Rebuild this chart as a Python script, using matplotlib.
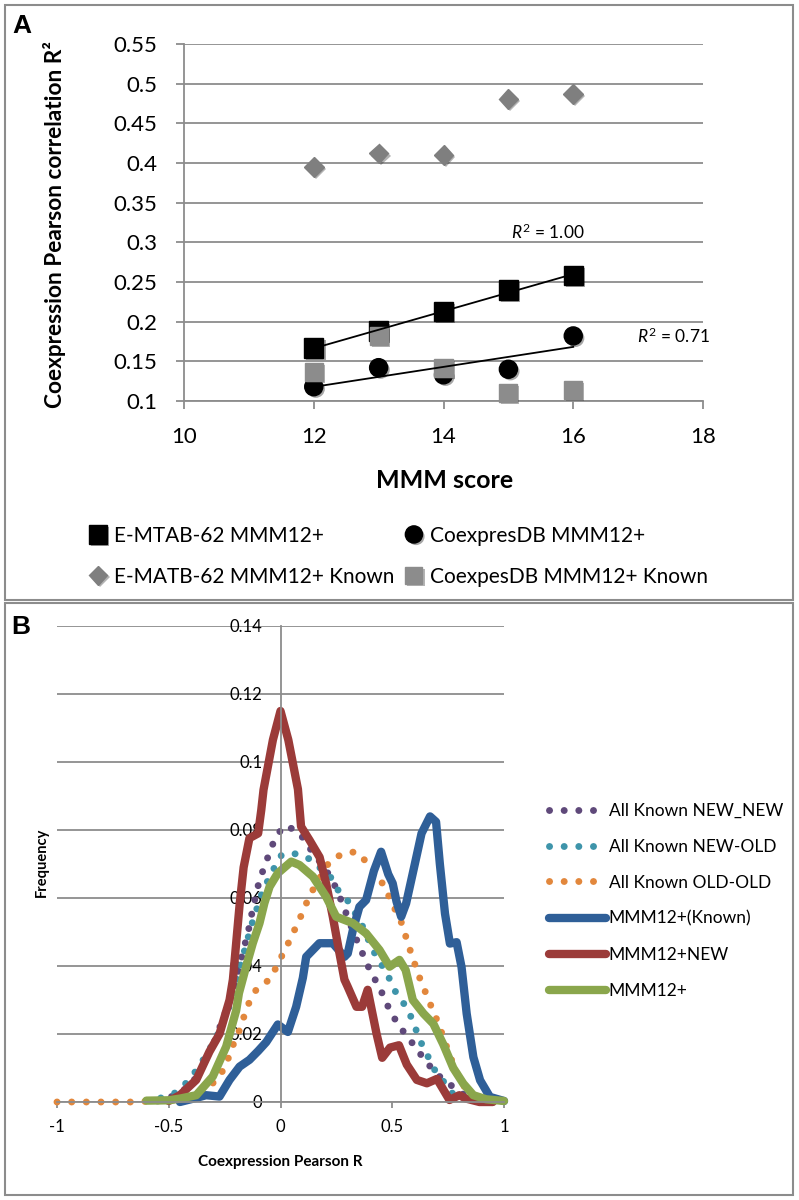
import numpy as np
import matplotlib
matplotlib.use('Agg')
from matplotlib import pyplot as plt
from matplotlib.patches import Rectangle
import matplotlib.patheffects as pe

plt.rcParams['font.family'] = ['Lato', 'DejaVu Sans']
plt.rcParams['mathtext.fontset'] = 'custom'
plt.rcParams['mathtext.rm'] = 'Lato'
plt.rcParams['mathtext.it'] = 'Lato:italic'

# ---- panel A data ----
mmm = [12, 13, 14, 15, 16]
emtab = [0.167, 0.188, 0.213, 0.240, 0.258]
coexpdb = [0.118, 0.142, 0.133, 0.140, 0.182]
emtab_known = [0.395, 0.412, 0.410, 0.481, 0.487]
coexpdb_known = [0.137, 0.182, 0.142, 0.110, 0.114]
a_yticks = [0.1, 0.15, 0.2, 0.25, 0.3, 0.35, 0.4, 0.45, 0.5, 0.55]
a_ylabels = ['0.1', '0.15', '0.2', '0.25', '0.3', '0.35', '0.4', '0.45', '0.5', '0.55']
a_xticks = [10, 12, 14, 16, 18]

# ---- panel B data ----
nn_x = [-0.55, -0.5, -0.45, -0.4, -0.346, -0.3, -0.266, -0.243, -0.2, -0.169, -0.151, -0.136,
        -0.124, -0.094, -0.072, -0.049, -0.024, 0.015, 0.07, 0.116, 0.145, 0.185, 0.227, 0.256,
        0.279, 0.32, 0.353, 0.38, 0.406, 0.442, 0.467, 0.497, 0.534, 0.572, 0.609, 0.654, 0.691,
        0.743, 0.803, 0.85, 0.9]
nn_y = [0.0003, 0.0012, 0.0028, 0.005, 0.0108, 0.017, 0.023, 0.027, 0.035, 0.044, 0.0484, 0.0526,
        0.057, 0.0653, 0.0692, 0.0734, 0.0776, 0.0812, 0.080, 0.0765, 0.0731, 0.070, 0.0658, 0.0619,
        0.058, 0.051, 0.0457, 0.0418, 0.0378, 0.034, 0.030, 0.026, 0.022, 0.019, 0.0155, 0.0118,
        0.0086, 0.0059, 0.0029, 0.001, 0.0003]

no_x = [-0.6, -0.534, -0.474, -0.43, -0.38, -0.33, -0.28, -0.23, -0.18, -0.13, -0.08, -0.05,
        -0.027, 0.006, 0.067, 0.115, 0.16, 0.219, 0.249, 0.294, 0.361, 0.413, 0.48, 0.512, 0.572,
        0.606, 0.631, 0.691, 0.73, 0.77, 0.85]
no_y = [0.0004, 0.0012, 0.0026, 0.005, 0.009, 0.014, 0.020, 0.028, 0.040, 0.052, 0.062, 0.066,
        0.069, 0.0728, 0.073, 0.0722, 0.0697, 0.0668, 0.0629, 0.0599, 0.0526, 0.0447, 0.0373,
        0.0327, 0.027, 0.0213, 0.0172, 0.0093, 0.006, 0.0025, 0.0005]

oo_x = [-1, -0.935, -0.87, -0.8, -0.73, -0.67, -0.6, -0.5, -0.45, -0.4, -0.348, -0.303, -0.258,
        -0.234, -0.209, -0.183, -0.161, -0.139, -0.109, -0.052, -0.019, 0.01, 0.04, 0.07, 0.097,
        0.122, 0.152, 0.219, 0.279, 0.339, 0.391, 0.465, 0.491, 0.548, 0.565, 0.609, 0.631, 0.657,
        0.681, 0.71, 0.728, 0.766, 0.803, 0.848, 0.9]
oo_y = [0, 0, 0, 0, 0, 0, 0.0002, 0.0005, 0.0008, 0.0014, 0.0026, 0.0055, 0.0092, 0.0128, 0.0173,
        0.0212, 0.0256, 0.0295, 0.033, 0.0359, 0.0396, 0.0435, 0.0474, 0.0516, 0.0555, 0.0594,
        0.0633, 0.0707, 0.0731, 0.0736, 0.0702, 0.0635, 0.0596, 0.0518, 0.0476, 0.039, 0.035,
        0.031, 0.027, 0.0226, 0.019, 0.0123, 0.0064, 0.002, 0.0003]

known_x = [-0.45, -0.377, -0.333, -0.273, -0.228, -0.183, -0.139, -0.1, -0.064, -0.012, 0.033,
           0.07, 0.1, 0.115, 0.174, 0.234, 0.286, 0.301, 0.324, 0.353, 0.383, 0.418, 0.45, 0.482,
           0.502, 0.519, 0.54, 0.562, 0.601, 0.631, 0.669, 0.696, 0.713, 0.736, 0.758, 0.788, 0.81,
           0.833, 0.863, 0.893, 0.937, 1.0]
known_y = [0, 0.0012, 0.002, 0.0016, 0.0065, 0.0104, 0.0124, 0.015, 0.0176, 0.0228, 0.0206,
           0.028, 0.0365, 0.0427, 0.0467, 0.0467, 0.0427, 0.0437, 0.0506, 0.0574, 0.0594, 0.068,
           0.0736, 0.067, 0.0643, 0.059, 0.0545, 0.0584, 0.070, 0.079, 0.084, 0.0824, 0.070,
           0.0554, 0.0466, 0.047, 0.0397, 0.026, 0.0132, 0.0064, 0.0015, 0.0003]

new_x = [-0.5, -0.45, -0.377, -0.318, -0.273, -0.228, -0.213, -0.198, -0.183, -0.165, -0.139,
         -0.1, -0.086, -0.076, -0.034, 0, 0.035, 0.078, 0.092, 0.13, 0.175, 0.204, 0.234, 0.264,
         0.286, 0.3, 0.34, 0.365, 0.39, 0.43, 0.455, 0.49, 0.53, 0.565, 0.61, 0.655, 0.7, 0.756,
         0.8, 0.83, 0.89, 0.95]
new_y = [0.0003, 0.002, 0.0065, 0.0148, 0.020, 0.030, 0.036, 0.047, 0.058, 0.069, 0.0776, 0.079,
         0.0859, 0.0918, 0.1065, 0.115, 0.1065, 0.092, 0.081, 0.077, 0.072, 0.0643, 0.0545,
         0.0437, 0.036, 0.034, 0.028, 0.028, 0.033, 0.020, 0.013, 0.016, 0.0167, 0.011, 0.0065,
         0.0055, 0.0068, 0.0006, 0.002, 0.001, 0, 0]

all_x = [-0.6, -0.5, -0.45, -0.377, -0.303, -0.243, -0.198, -0.186, -0.154, -0.124, -0.094,
         -0.072, -0.049, -0.012, 0.048, 0.085, 0.145, 0.204, 0.249, 0.324, 0.383, 0.443, 0.488,
         0.532, 0.56, 0.592, 0.64, 0.684, 0.728, 0.773, 0.818, 0.863, 0.92, 1.0]
all_y = [0.0004, 0.0005, 0.001, 0.002, 0.0075, 0.0163, 0.027, 0.032, 0.0398, 0.0467, 0.0526,
         0.0585, 0.0633, 0.0673, 0.0707, 0.0697, 0.0663, 0.0604, 0.0545, 0.0526, 0.0496, 0.0447,
         0.0398, 0.0418, 0.0388, 0.030, 0.026, 0.023, 0.017, 0.010, 0.0054, 0.002, 0.0008, 0.0003]

b_yticks = [0, 0.02, 0.04, 0.06, 0.08, 0.1, 0.12, 0.14]
b_ylabels = ['0', '0.02', '0.04', '0.06', '0.08', '0.1', '0.12', '0.14']
b_xticks = [-1, -0.5, 0, 0.5, 1]
b_xlabels = ['-1', '-0.5', '0', '0.5', '1']

grid_c = '#8c8c8c'
purple = '#5f497a'
teal = '#3e94aa'
orange = '#e2873c'
blue = '#2f5f98'
red = '#9b3b39'
green = '#8aa64c'

fig = plt.figure(figsize=(7.99, 12), dpi=100)

# panel frames
fig.patches.append(Rectangle((5 / 799, 1 - 600 / 1200), 788 / 799, 595 / 1200, transform=fig.transFigure,
                             fill=False, edgecolor='#8c8c8c', lw=1.5))
fig.patches.append(Rectangle((5 / 799, 1 - 1195 / 1200), 788 / 799, 592 / 1200, transform=fig.transFigure,
                             fill=False, edgecolor='#8c8c8c', lw=1.5))
fig.text(12 / 799, 1 - 26 / 1200, 'A', fontsize=19, fontweight='bold', family='Liberation Sans', va='center')
fig.text(11 / 799, 1 - 627 / 1200, 'B', fontsize=19, fontweight='bold', family='Liberation Sans', va='center')

# ---------- panel A ----------
ax = fig.add_axes([184 / 799, 799 / 1200, 519 / 799, 357 / 1200])
shadow = [pe.SimplePatchShadow(offset=(1.5, -1.5), alpha=0.35), pe.Normal()]
ax.plot(mmm, emtab, 's', color='black', ms=14, clip_on=False, zorder=3, path_effects=shadow,
        label='E-MTAB-62 MMM12+')
ax.plot(mmm, coexpdb, 'o', color='black', ms=13, clip_on=False, zorder=3, path_effects=shadow,
        label='CoexpresDB MMM12+')
ax.plot(mmm, emtab_known, 'D', color='#7f7f7f', ms=10, clip_on=False, zorder=3, path_effects=shadow,
        label='E-MATB-62 MMM12+ Known')
ax.plot(mmm, coexpdb_known, 's', color='#8c8c8c', ms=13, clip_on=False, zorder=3, path_effects=shadow,
        label='CoexpesDB MMM12+ Known')

for ys in (emtab, coexpdb):
    k, b = np.polyfit(mmm, ys, 1)
    xx = np.array([mmm[0], mmm[-1]])
    ax.plot(xx, k * xx + b, color='black', lw=1.3, zorder=4)
ax.text(15.04, 0.313, r'$\mathit{R}^2$ = 1.00', fontsize=12.5, va='center')
ax.text(16.99, 0.181, r'$\mathit{R}^2$ = 0.71', fontsize=12.5, va='center')

ax.set_xlim(10, 18)
ax.set_ylim(0.1, 0.55)
ax.set_xticks(a_xticks)
ax.set_yticks(a_yticks)
ax.set_yticklabels(a_ylabels)
ax.grid(axis='y', color=grid_c, lw=1.3)
ax.set_axisbelow(True)
for s in ('top', 'right'):
    ax.spines[s].set_visible(False)
for s in ('left', 'bottom'):
    ax.spines[s].set_color(grid_c)
    ax.spines[s].set_linewidth(1.3)
ax.tick_params(axis='both', colors=grid_c, labelcolor='black', labelsize=16, length=6, width=1.3)
ax.tick_params(axis='y', pad=13)
ax.tick_params(axis='x', pad=13)
ax.set_ylabel('Coexpression Pearson correlation R²', fontsize=16.3, fontweight='bold')
ax.yaxis.set_label_coords(-0.228, 0.495)
ax.set_xlabel('MMM score', fontsize=18, fontweight='bold')
ax.xaxis.set_label_coords(0.503, -0.19)

h, l = ax.get_legend_handles_labels()
order = [0, 2, 1, 3]
fig.legend([h[i] for i in order], [l[i] for i in order], ncol=2, loc='upper left',
           bbox_to_anchor=(70 / 799, 1 - 507 / 1200), frameon=False, fontsize=15,
           handlelength=0.9, handletextpad=0.3, columnspacing=0.5, labelspacing=1.0,
           markerscale=0.95)

# ---------- panel B ----------
bx = fig.add_axes([57 / 799, 98 / 1200, 447 / 799, 476 / 1200])
dot = (0, (0.01, 2.1))
lines_b = [
    (nn_x, nn_y, purple, dot, 5.0, 'All Known NEW_NEW'),
    (no_x, no_y, teal, dot, 5.0, 'All Known NEW-OLD'),
    (oo_x, oo_y, orange, dot, 5.0, 'All Known OLD-OLD'),
    (known_x, known_y, blue, '-', 6.0, 'MMM12+(Known)'),
    (new_x, new_y, red, '-', 6.0, 'MMM12+NEW'),
    (all_x, all_y, green, '-', 6.0, 'MMM12+'),
]
for xs, ys, c, ls, lw, lab in lines_b:
    bx.plot(xs, ys, color=c, ls=ls, lw=lw, dash_capstyle='round', solid_capstyle='round',
            solid_joinstyle='round', label=lab, clip_on=False)

bx.set_xlim(-1, 1)
bx.set_ylim(0, 0.14)
bx.set_xticks(b_xticks)
bx.set_xticklabels(b_xlabels)
bx.set_yticks(b_yticks)
bx.set_yticklabels(b_ylabels)
bx.grid(axis='y', color=grid_c, lw=1.3)
bx.set_axisbelow(True)
for s in ('top', 'right'):
    bx.spines[s].set_visible(False)
bx.spines['left'].set_position(('data', 0))
for s in ('left', 'bottom'):
    bx.spines[s].set_color(grid_c)
    bx.spines[s].set_linewidth(1.3)
bx.tick_params(axis='both', colors=grid_c, labelcolor='black', labelsize=12, width=1.3)
bx.tick_params(axis='y', length=0, pad=13)
bx.tick_params(axis='x', length=4, pad=8)
bx.set_ylabel('Frequency', fontsize=10.5, fontweight='bold')
bx.yaxis.set_label_coords(-0.018, 0.504)
bx.set_xlabel('Coexpression Pearson R', fontsize=11, fontweight='bold')
bx.xaxis.set_label_coords(0.5, -0.112)

fig.legend(*bx.get_legend_handles_labels(), loc='upper left', bbox_to_anchor=(533 / 799, 1 - 787 / 1200),
           frameon=False, fontsize=12.5, handlelength=3.3, handletextpad=0.15, labelspacing=1.15)

fig.savefig('out.png', dpi=100)
